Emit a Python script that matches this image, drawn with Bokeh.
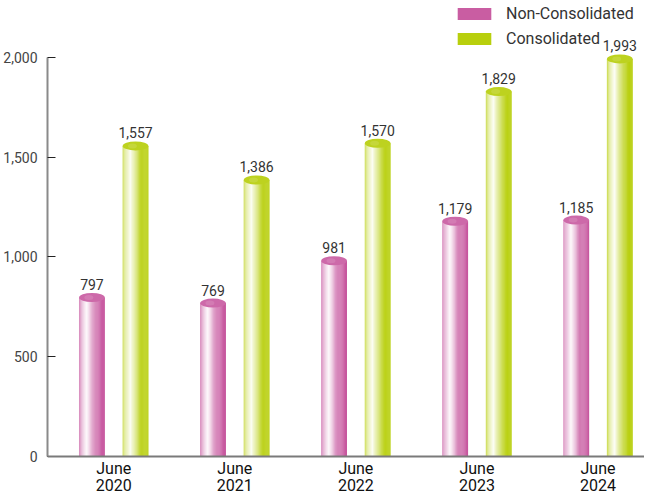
import numpy as np
from bokeh.plotting import figure
from bokeh.models import (ColumnDataSource, Range1d, FixedTicker, NumeralTickFormatter,
                          Legend, LegendItem, Span)
from bokeh.core.properties import value
from bokeh.embed import file_html
from bokeh.resources import INLINE

# ---- data ----
period_month = ["June", "June", "June", "June", "June"]
period_year = ["2020", "2021", "2022", "2023", "2024"]
non_consolidated = [797, 769, 981, 1179, 1185]
consolidated = [1557, 1386, 1570, 1829, 1993]
series_names = ["Non-Consolidated", "Consolidated"]
y_ticks = [0, 500, 1000, 1500, 2000]

# ---- styling ----
FONT = "Roboto"
PINK = (198, 84, 157)
GREEN = (180, 204, 0)
BW = 0.212          # bar width in category units
OFF = 0.18          # offset of each series from category centre
N = 28              # gradient strips per bar

prof_t = [0.0, 0.1, 0.3, 0.45, 0.65, 1.0]
prof_m = [0.3, 0.6, 0.96, 0.65, 0.2, 0.0]


def mix(c, m):
    return "#%02x%02x%02x" % tuple(int(round(ch * (1 - m) + 255 * m)) for ch in c)


cats = list(range(len(period_year)))

p = figure(width=644, height=494, output_backend="svg", toolbar_location=None,
           x_axis_location=None,
           x_range=Range1d(-0.547, 4.384), y_range=Range1d(-190.5, 2285.7),
           min_border_left=40, min_border_right=0, min_border_top=0, min_border_bottom=0)
p.outline_line_color = None
p.xgrid.visible = False
p.ygrid.visible = False
p.background_fill_color = "white"

legend_items = []
for vals, off, base, name in [(non_consolidated, -OFF, PINK, series_names[0]),
                              (consolidated, OFF, GREEN, series_names[1])]:
    xs, tops, cols = [], [], []
    for i, v in enumerate(vals):
        for k in range(N):
            t = (k + 0.5) / N
            xs.append(i + off + (t - 0.5) * BW)
            tops.append(v)
            cols.append(mix(base, float(np.interp(t, prof_t, prof_m))))
    src = ColumnDataSource(dict(x=xs, top=tops, color=cols))
    r = p.vbar(x="x", top="top", bottom=0, width=BW / N * 1.25, source=src,
               fill_color="color", line_color=None)
    # cylinder cap
    cx = [i + off for i in cats]
    p.ellipse(x=cx, y=vals, width=BW, height=9, height_units="screen",
              fill_color=mix(base, 0.12), line_color=None)
    p.ellipse(x=[c - BW * 0.12 for c in cx], y=vals, width=BW * 0.35, height=5,
              height_units="screen", fill_color=mix(base, 0.3), line_color=None, fill_alpha=0.6)
    # value labels
    p.text(x=cx, y=vals, text=[f"{v:,}" for v in vals], text_align="center",
           text_baseline="alphabetic", y_offset=-13, text_font=value(FONT),
           text_font_size="14px", text_color="#333333")
    legend_items.append(LegendItem(label=name, renderers=[r], index=N - 3))

# x axis line and category labels
p.add_layout(Span(location=0, dimension="width", line_color="#7a7a7a", line_width=2))
p.text(x=cats, y=[0] * len(cats), text=period_month, text_align="center",
       text_baseline="middle", y_offset=12, text_font=value(FONT),
       text_font_size="16px", text_color="#111111")
p.text(x=cats, y=[0] * len(cats), text=period_year, text_align="center",
       text_baseline="middle", y_offset=29, text_font=value(FONT),
       text_font_size="16px", text_color="#111111")

ya = p.yaxis[0]
ya.ticker = FixedTicker(ticks=y_ticks)
ya.formatter = NumeralTickFormatter(format="0,0")
ya.bounds = (0, 2000)
ya.axis_line_color = "#8a8a8a"
ya.axis_line_width = 2
ya.major_tick_in = 8
ya.major_tick_out = 0
ya.major_tick_line_color = "#222222"
ya.minor_tick_line_color = None
ya.major_label_text_font = FONT
ya.major_label_text_font_size = "14px"
ya.major_label_text_color = "#444444"
ya.major_label_standoff = 10

legend = Legend(items=legend_items, location=(406, 446), orientation="vertical",
                glyph_width=42, glyph_height=15, label_height=14, spacing=6,
                padding=0, margin=0, label_standoff=11,
                label_text_font=FONT, label_text_font_size="16px",
                label_text_color="#333333", border_line_color=None,
                background_fill_alpha=0)
p.add_layout(legend)

open("out.html", "w").write(file_html(p, INLINE))
